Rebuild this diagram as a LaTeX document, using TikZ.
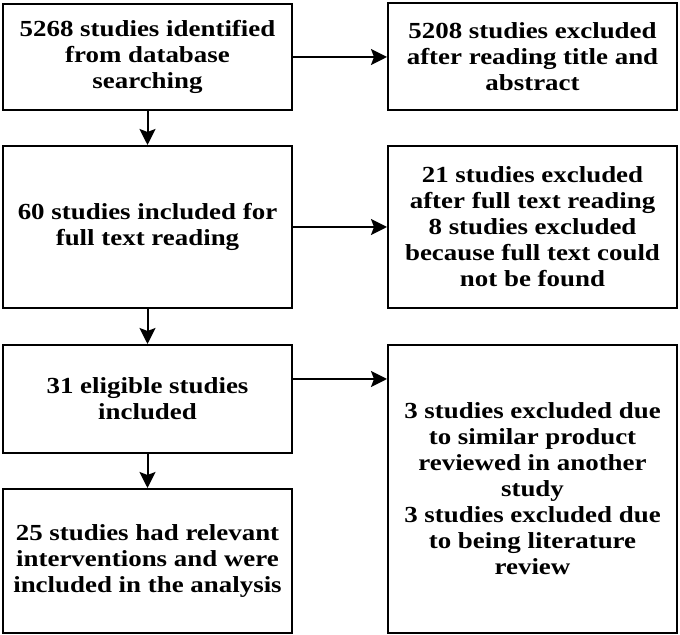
\documentclass[tikz,border=0pt]{standalone}
\usepackage{fontspec}
\setmainfont{Liberation Serif}[FakeStretch=1.17]
\usepackage{tikz}
\usetikzlibrary{arrows.meta,positioning}

\begin{document}
\begin{tikzpicture}[x=0.5pt,y=-0.5pt,>={Stealth[length=8pt,width=8pt,inset=1.5pt]},
  stagebox/.style={draw=black,line width=1pt,minimum width=144.5pt,align=center,
    font=\fontsize{11.5}{13}\selectfont\bfseries,inner sep=2pt},
  flow/.style={->,line width=1pt}]
 \useasboundingbox (0,0) rectangle (680,635);
 % left column
 \node[stagebox,minimum height=53pt] (ident) at (147.5,57) {5268 studies identified\\from database\\searching};
 \node[stagebox,minimum height=81pt] (full) at (147.5,227) {60 studies included for\\full text reading};
 \node[stagebox,minimum height=54pt] (elig) at (147.5,399) {31 eligible studies\\included};
 \node[stagebox,minimum height=72pt] (incl) at (147.5,561) {25 studies had relevant\\interventions and were\\included in the analysis};
 % right column
 \node[stagebox,minimum height=53.5pt] (exA) at (532.5,57) {5208 studies excluded\\after reading title and\\abstract};
 \node[stagebox,minimum height=81pt] (exB) at (532.5,227) {21 studies excluded\\after full text reading\\8 studies excluded\\because full text could\\not be found};
 \node[stagebox,minimum height=144pt] (exC) at (532.5,489) {3 studies excluded due\\to similar product\\reviewed in another\\study\\3 studies excluded due\\to being literature\\review};
 % arrows
 \draw[flow] (ident) -- (full);
 \draw[flow] (full) -- (elig);
 \draw[flow] (elig) -- (incl);
 \draw[flow] (ident) -- (exA);
 \draw[flow] (full) -- (exB);
 \draw[flow] ([yshift=-17.5pt]elig.north east) -- ([yshift=-17.5pt]exC.north west);
\end{tikzpicture}
\end{document}
